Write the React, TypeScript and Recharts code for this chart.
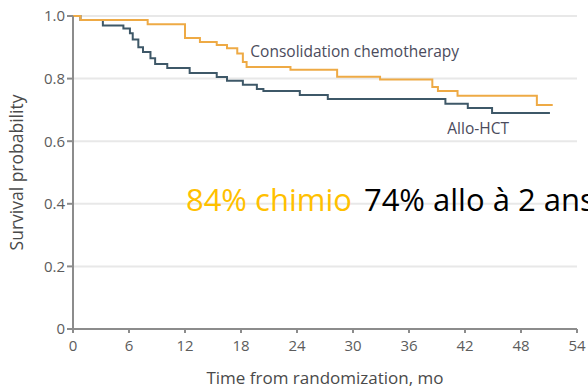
import React from 'react';
import { LineChart, Line, XAxis, YAxis, CartesianGrid, ReferenceDot, Label } from 'recharts';

// Kaplan-Meier steps (months, survival probability)
const chemoTimes = [0, 0.8, 8, 12, 13.6, 15.4, 16.5, 17.6, 18.2, 18.6, 23.3, 28.3, 32.9, 38.5, 39.1, 41.2, 49.7, 51.4];
const chemoSurvival = [1.0, 0.987, 0.974, 0.93, 0.917, 0.907, 0.897, 0.88, 0.853, 0.837, 0.828, 0.806, 0.797, 0.773, 0.76, 0.745, 0.716, 0.716];

const alloTimes = [0, 0.8, 3.2, 5.4, 6.1, 6.4, 7.0, 7.5, 8.3, 8.8, 10.1, 12.5, 15.4, 16.5, 18.2, 19.7, 20.4, 24.3, 27.3, 39.9, 42.3, 44.9, 51.1];
const alloSurvival = [1.0, 0.987, 0.97, 0.96, 0.945, 0.925, 0.9, 0.885, 0.865, 0.847, 0.834, 0.818, 0.805, 0.793, 0.78, 0.767, 0.76, 0.748, 0.735, 0.72, 0.706, 0.69, 0.69];

const xTicks = [0, 6, 12, 18, 24, 30, 36, 42, 48, 54];
const yTicks = [0, 0.2, 0.4, 0.6, 0.8, 1.0];

const chemoData = chemoTimes.map((t, i) => ({ t, s: chemoSurvival[i] }));
const alloData = alloTimes.map((t, i) => ({ t, s: alloSurvival[i] }));

const ORANGE = '#eeaa45';
const SLATE = '#3e5868';
const TICK = '#5c5c5c';
const AXIS = '#8c8c8c';

const Overlay = (props: any) => {
  const { viewBox } = props;
  return (
    <text x={viewBox.x} y={viewBox.y} fontFamily="Open Sans" fontSize={31}>
      <tspan fill="#ffc000">84% chimio</tspan>
      <tspan fill="#000" dx={12}>74% allo à 2 ans</tspan>
    </text>
  );
};

export default function App() {
  return (
    <div style={{ position: 'absolute', left: 0, top: 0, background: '#fff' }}>
      <LineChart width={588} height={388} margin={{ top: 16, right: 11, bottom: 0, left: 0 }}>
        <CartesianGrid vertical={false} stroke="#e8e8e8" strokeWidth={2} />
        <XAxis
          type="number"
          dataKey="t"
          domain={[0, 54]}
          ticks={xTicks}
          height={59}
          tick={{ fontFamily: 'Open Sans', fontSize: 15, fill: TICK }}
          tickSize={4}
          tickMargin={7}
          stroke={AXIS}
          strokeWidth={2}
          allowDuplicatedCategory={false}
        >
          <Label
            value="Time from randomization, mo"
            position="insideBottom"
            offset={4}
            style={{ fontFamily: 'Open Sans', fontSize: 17, fill: '#4a4a4a' }}
          />
        </XAxis>
        <YAxis
          type="number"
          domain={[0, 1]}
          ticks={yTicks}
          width={73}
          tick={{ fontFamily: 'Open Sans', fontSize: 15, fill: TICK }}
          tickSize={6}
          tickFormatter={(v: number) => (v === 0 ? '0' : v.toFixed(1))}
          stroke={AXIS}
          strokeWidth={2}
        >
          <Label
            value="Survival probability"
            angle={-90}
            position="insideLeft"
            offset={17}
            style={{ fontFamily: 'Open Sans', fontSize: 17.5, fill: '#4a4a4a', textAnchor: 'middle' }}
          />
        </YAxis>
        <Line
          data={alloData}
          dataKey="s"
          type="stepAfter"
          stroke={SLATE}
          strokeWidth={2}
          dot={false}
          isAnimationActive={false}
        />
        <Line
          data={chemoData}
          dataKey="s"
          type="stepAfter"
          stroke={ORANGE}
          strokeWidth={2}
          dot={false}
          isAnimationActive={false}
        />
        <ReferenceDot x={19} y={0.885} r={0} stroke="none" fill="none">
          <Label
            value="Consolidation chemotherapy"
            position="right"
            offset={0}
            style={{ fontFamily: 'Open Sans', fontSize: 15.5, fill: '#4b4b5c' }}
          />
        </ReferenceDot>
        <ReferenceDot x={40.1} y={0.642} r={0} stroke="none" fill="none">
          <Label
            value="Allo-HCT"
            position="right"
            offset={0}
            style={{ fontFamily: 'Open Sans', fontSize: 15.5, fill: '#4b4b5c' }}
          />
        </ReferenceDot>
        <ReferenceDot x={12.1} y={0.377} r={0} stroke="none" fill="none">
          <Label content={<Overlay />} />
        </ReferenceDot>
      </LineChart>
    </div>
  );
}
